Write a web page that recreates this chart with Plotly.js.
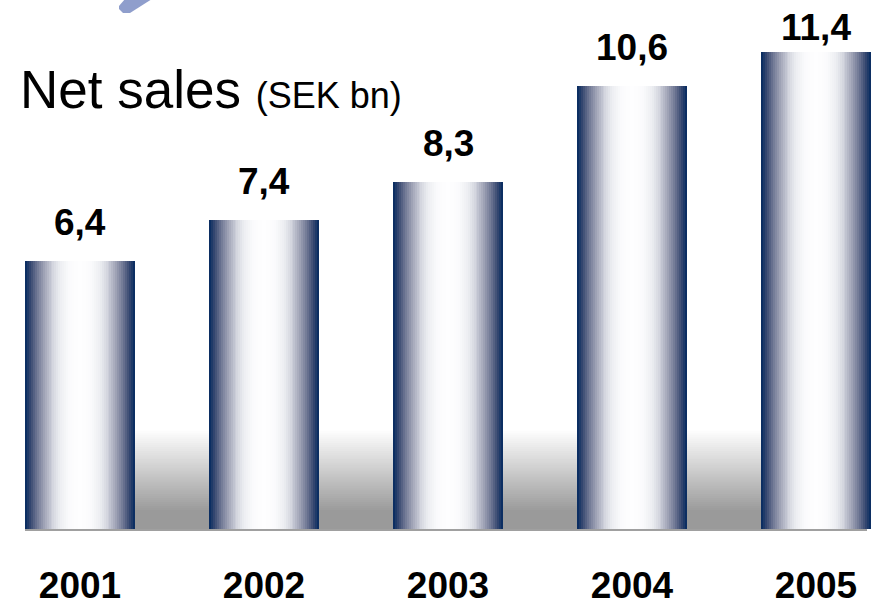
<!DOCTYPE html>
<html>
<head>
<meta charset="utf-8">
<script src="https://cdn.plot.ly/plotly-3.0.1.min.js"></script>
<style>html,body{margin:0;padding:0;background:#fff;}#chart{width:877px;height:605px;}</style>
</head>
<body>
<div id="chart"></div>
<script>
// ---- data ----
const years = [2001, 2002, 2003, 2004, 2005];
const values = [6.4, 7.4, 8.3, 10.6, 11.4];
const yearLabels = ['2001', '2002', '2003', '2004', '2005'];
const valueLabels = values.map(v => v.toFixed(1).replace('.', ','));

// ---- styling ----
const W = 877, H = 605;
const M = {l: 0, r: 0, t: 2, b: 74};
const plotH = H - M.t - M.b;
const FONT = 'Liberation Sans, Arial, Helvetica, sans-serif';
const barWidth = 0.598;
const N = 28;
const stops = [
  [0.00, [255, 255, 255]],
  [0.22, [250, 250, 252]],
  [0.38, [236, 237, 241]],
  [0.52, [208, 210, 220]],
  [0.66, [165, 168, 186]],
  [0.80, [112, 120, 148]],
  [0.92, [55, 72, 112]],
  [1.00, [12, 46, 98]]
];
function colorAt(t) {
  for (let i = 1; i < stops.length; i++) {
    if (t <= stops[i][0]) {
      const a = stops[i - 1], b = stops[i];
      const f = (t - a[0]) / (b[0] - a[0]);
      const c = a[1].map((v, k) => Math.round(v + (b[1][k] - v) * f));
      return 'rgb(' + c.join(',') + ')';
    }
  }
  return 'rgb(' + stops[stops.length - 1][1].join(',') + ')';
}

const traces = [];
for (let i = 0; i < N; i++) {
  const t = 1 - i / N;
  traces.push({
    type: 'bar', x: years, y: values,
    width: barWidth * t,
    marker: {color: colorAt(t), line: {width: 0}},
    hoverinfo: 'skip', showlegend: false
  });
}

const pxPerUnit = 41.8;
const yMin = -2 / pxPerUnit;
const yMax = yMin + plotH / pxPerUnit;
const x0 = years[0] - 80 / 184;
const x1 = years[0] + (877 - 80) / 184;

// gray floor gradient (decoration)
const shapes = [];
const floorL = years[0] - 55 / 184, floorR = years[0] + 787 / 184;
const G = 40, hTop = 2.4, hFull = 0.45;
for (let i = 0; i <= G; i++) {
  const f = i / G;
  const h = hTop - (hTop - hFull) * f;
  const g = Math.round(255 - (255 - 154) * f);
  shapes.push({type: 'rect', layer: 'below', xref: 'x', yref: 'y', x0: floorL, x1: floorR, y0: 0, y1: h,
    fillcolor: 'rgb(' + g + ',' + g + ',' + g + ')', line: {width: 0}});
}
shapes.push({type: 'rect', layer: 'below', xref: 'x', yref: 'y', x0: floorL, x1: floorR, y0: yMin, y1: 0,
  fillcolor: 'rgb(160,160,160)', line: {width: 0}});

// decorative arrow fragment at top
function px2paper(p) { return [(p[0] - M.l) / (W - M.l - M.r), (H - M.b - p[1]) / plotH]; }
const arrowPx = [[119, 6], [125, -1], [152, -1], [130, 13], [123, 13], [119, 9]];
const ap = arrowPx.map(px2paper);
shapes.push({type: 'path', xref: 'paper', yref: 'paper',
  path: 'M' + ap.map(p => p[0] + ',' + p[1]).join('L') + 'Z',
  fillcolor: 'rgb(143,158,204)', line: {width: 0}});

// value labels: keep above bars, but pushed down when near the top edge
const annotations = years.map((yr, i) => {
  const barTopPx = (H - M.b) - (values[i] - yMin) * pxPerUnit;
  return {
    x: yr, y: values[i], xref: 'x', yref: 'y', text: valueLabels[i],
    showarrow: false, yanchor: 'bottom', yshift: Math.min(16, barTopPx - 50),
    font: {family: FONT, size: 37, color: '#000', weight: 'bold'}
  };
});

const layout = {
  width: W, height: H, margin: M,
  paper_bgcolor: '#fff', plot_bgcolor: 'rgba(0,0,0,0)',
  barmode: 'overlay', bargap: 0,
  showlegend: false,
  title: {
    text: 'Net sales <span style="font-size:36px">(SEK bn)</span>',
    x: 20 / W, xanchor: 'left', xref: 'container',
    y: 1 - 89 / H, yanchor: 'middle', yref: 'container',
    font: {family: FONT, size: 53, color: '#000'}
  },
  xaxis: {
    range: [x0, x1], showgrid: false, zeroline: false, showline: false,
    tickvals: years, ticktext: yearLabels, ticks: '', ticklabelstandoff: 29,
    tickfont: {family: FONT, size: 37, color: '#000', weight: 'bold'}
  },
  yaxis: {range: [yMin, yMax], visible: false, showgrid: false, zeroline: false},
  shapes: shapes,
  annotations: annotations
};

Plotly.newPlot('chart', traces, layout, {displayModeBar: false, staticPlot: true});
</script>
</body>
</html>
